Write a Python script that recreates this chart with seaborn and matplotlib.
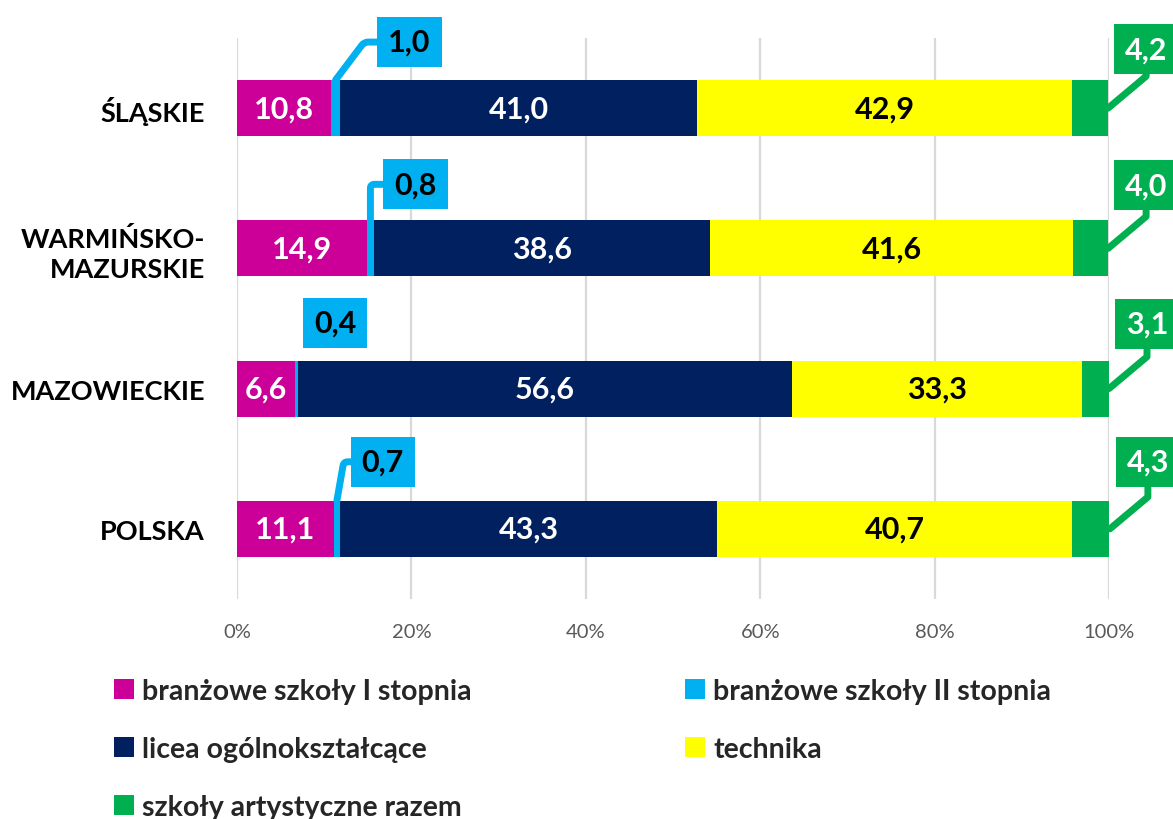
import numpy as np
import pandas as pd
import matplotlib
matplotlib.use("Agg")
import matplotlib.pyplot as plt
from matplotlib.patches import Patch
import seaborn as sns

# Struktura uczniów według typu szkoły (%)
regions = ["ŚLĄSKIE", "WARMIŃSKO-\nMAZURSKIE", "MAZOWIECKIE", "POLSKA"]
series = [
    "branżowe szkoły I stopnia",
    "branżowe szkoły II stopnia",
    "licea ogólnokształcące",
    "technika",
    "szkoły artystyczne razem",
]
branzowe_1 = [10.8, 14.9, 6.6, 11.1]
branzowe_2 = [1.0, 0.8, 0.4, 0.7]
licea = [41.0, 38.6, 56.6, 43.3]
technika = [42.9, 41.6, 33.3, 40.7]
artystyczne = [4.2, 4.0, 3.1, 4.3]
xticks = [0, 20, 40, 60, 80, 100]

colors = ["#CC0099", "#00B0F0", "#002060", "#FFFF00", "#00B050"]
inner_text = ["white", None, "white", "black", None]

values = np.array([branzowe_1, branzowe_2, licea, technika, artystyczne])
ends = values.cumsum(axis=0)
starts = ends - values

df = pd.DataFrame({"region": regions})
for name, end in zip(series, ends):
    df[name] = end

sns.set_theme(style="white")
plt.rcParams["font.family"] = ["Lato", "DejaVu Sans"]

fig = plt.figure(figsize=(11.73, 8.2), dpi=100)
ax = fig.add_axes([237 / 1173, 1 - 600 / 820, 872 / 1173, 561 / 820])

# stacked bars: draw cumulative totals from the longest to the shortest
for name, color in reversed(list(zip(series, colors))):
    sns.barplot(data=df, x=name, y="region", orient="h", color=color,
                saturation=1, width=0.4, errorbar=None, linewidth=0, ax=ax)

ax.set_xlim(0, 100)
ax.set_xticks(xticks)
ax.set_xticklabels([f"{t}%" for t in xticks], fontsize=14.5, color="#595959")
ax.set_xlabel("")
ax.set_ylabel("")
ax.tick_params(axis="x", length=0, pad=17)
ax.tick_params(axis="y", length=0, pad=23)
for lab in ax.get_yticklabels():
    lab.set_fontsize(19.5)
    lab.set_fontweight("bold")
    lab.set_color("black")
    lab.set_linespacing(1.3)
ax.xaxis.grid(True, color="#D9D9D9", linewidth=1.6)
ax.set_axisbelow(True)
for s in ax.spines.values():
    s.set_visible(False)


def fmt(v):
    return f"{v:.1f}".replace(".", ",")


# values inside the segments
for k, tc in enumerate(inner_text):
    if tc is None:
        continue
    for i in range(len(regions)):
        ax.text((starts[k, i] + ends[k, i]) / 2, i, fmt(values[k, i]),
                ha="center", va="center", color=tc, fontsize=22,
                fontweight="bold")


def callout(x, y, text, dx, dy, fc, tc, conn):
    arrow = None
    if conn:
        arrow = dict(arrowstyle="-", color=fc, lw=5, shrinkA=0, shrinkB=0,
                     connectionstyle=conn)
    ax.annotate(text, xy=(x, y), xytext=(dx, dy), textcoords="offset pixels",
                ha="center", va="center", fontsize=22, fontweight="bold",
                color=tc, annotation_clip=False,
                bbox=dict(boxstyle="square,pad=0.36", fc=fc, ec="none"),
                arrowprops=arrow)


# callouts for the thin segments
blue_offsets = [(74, 38), (45, 36), (39, 38), (46, 39)]
blue_angles = [53, 90, None, 80]
for i in range(len(regions)):
    xc = (starts[1, i] + ends[1, i]) / 2
    ang = blue_angles[i]
    conn = f"angle,angleA=0,angleB={ang},rad=4" if ang else None
    dx, dy = blue_offsets[i]
    callout(xc, i - 0.2, fmt(values[1, i]), dx, dy, colors[1], "black", conn)

green_offsets = [(38, 59), (38, 63), (38, 65), (38, 67)]
for i in range(len(regions)):
    dx, dy = green_offsets[i]
    callout(ends[4, i], i, fmt(values[4, i]), dx, dy, colors[4], "white",
            "angle,angleA=90,angleB=40,rad=0")

# legend laid out in two columns, row by row
handles = [Patch(facecolor=c, edgecolor="none") for c in colors]
leg_kw = dict(frameon=False, loc="upper left", borderpad=0, borderaxespad=0,
              handlelength=0.7, handleheight=0.7, handletextpad=0.3,
              labelspacing=1.12, prop=dict(family=["Lato", "DejaVu Sans"],
                                           weight="bold", size=20.5))
fig.legend([handles[0], handles[2], handles[4]],
           [series[0], series[2], series[4]],
           bbox_to_anchor=(114 / 1173, 1 - 679 / 820), **leg_kw)
fig.legend([handles[1], handles[3]], [series[1], series[3]],
           bbox_to_anchor=(685 / 1173, 1 - 679 / 820), **leg_kw)

fig.savefig("out.png", dpi=100)
